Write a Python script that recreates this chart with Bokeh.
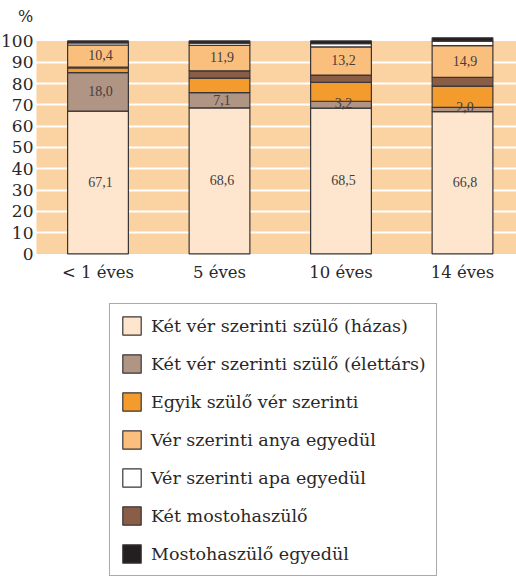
from bokeh.plotting import figure
from bokeh.models import (ColumnDataSource, Range1d, FixedTicker, BoxAnnotation,
                          Legend, LegendItem, LabelSet)
from bokeh.core.properties import value
from bokeh.embed import file_html
from bokeh.resources import INLINE

# ---- data ----
categories = ["< 1 éves", "5 éves", "10 éves", "14 éves"]
hazas = [67.1, 68.6, 68.5, 66.8]
elettars = [18.0, 7.1, 3.2, 2.0]
egyik = [2.2, 6.9, 8.9, 10.0]
ket_mostoha = [0.4, 3.4, 3.4, 4.1]
anya = [10.4, 11.9, 13.2, 14.9]
apa = [1.0, 1.1, 1.5, 2.1]
mostoha_egyedul = [0.9, 1.0, 1.3, 1.6]
y_ticks = [0, 10, 20, 30, 40, 50, 60, 70, 80, 90, 100]
unit_label = "%"

series_names = ["Két vér szerinti szülő (házas)", "Két vér szerinti szülő (élettárs)",
                "Egyik szülő vér szerinti", "Vér szerinti anya egyedül",
                "Vér szerinti apa egyedül", "Két mostohaszülő", "Mostohaszülő egyedül"]

SERIF = "DejaVu Serif"
TXT = "#2b2728"

colors = {
    "hazas": "#FDE6CD",
    "elettars": "#B09484",
    "egyik": "#F49B2D",
    "anya": "#FBBF7D",
    "apa": "#FFFFFF",
    "ket_mostoha": "#8A5D47",
    "mostoha_egyedul": "#231F20",
}

stack_keys = ["hazas", "elettars", "egyik", "ket_mostoha", "anya", "apa", "mostoha_egyedul"]
legend_keys = ["hazas", "elettars", "egyik", "anya", "apa", "ket_mostoha", "mostoha_egyedul"]
data_map = {"hazas": hazas, "elettars": elettars, "egyik": egyik, "ket_mostoha": ket_mostoha,
            "anya": anya, "apa": apa, "mostoha_egyedul": mostoha_egyedul}

xs = list(range(len(categories)))
src = ColumnDataSource(dict(x=xs, **{k: data_map[k] for k in stack_keys}))

# layout constants (positions in data units of the frame)
X0, X1 = -0.8025, 3.4444
BAND_LEFT = -0.5062
YLAB_X = -0.5309
UNIT_X = -0.5967
Y0, Y1 = -156.6, 119.0

p = figure(width=516, height=587, output_backend="svg", toolbar_location=None,
           x_range=Range1d(X0, X1), y_range=Range1d(Y0, Y1),
           min_border_left=0, min_border_right=0, min_border_top=0, min_border_bottom=0)
p.outline_line_color = None
p.background_fill_color = "white"
p.xaxis.visible = False
p.yaxis.visible = False

# orange band background
p.add_layout(BoxAnnotation(left=BAND_LEFT, bottom=0, top=100, fill_color="#FBD2A2",
                           fill_alpha=1, line_color=None, level="image"))

p.xgrid.grid_line_color = None
p.ygrid.ticker = FixedTicker(ticks=y_ticks[1:-1])
p.ygrid.grid_line_color = "white"
p.ygrid.grid_line_width = 2

renderers = p.vbar_stack(stack_keys, x="x", width=0.5, source=src,
                         color=[colors[k] for k in stack_keys],
                         line_color="#3a3536", line_width=1.2)
rmap = dict(zip(stack_keys, renderers))

# y tick labels
ysrc = ColumnDataSource(dict(x=[YLAB_X] * len(y_ticks), y=y_ticks, t=[str(v) for v in y_ticks]))
p.text(x="x", y="y", text="t", source=ysrc, text_align="right", text_baseline="middle",
       text_font=value(SERIF), text_font_size="17px", text_color=TXT)
# unit label
usrc = ColumnDataSource(dict(x=[UNIT_X], y=[111.5], t=[unit_label]))
p.text(x="x", y="y", text="t", source=usrc, text_align="center", text_baseline="middle",
       text_font=value(SERIF), text_font_size="16px", text_color=TXT)

# category labels under the bars
csrc = ColumnDataSource(dict(x=xs, y=[-8.7] * len(xs), t=categories))
p.text(x="x", y="y", text="t", source=csrc, text_align="center", text_baseline="middle",
       text_font=value(SERIF), text_font_size="16.5px", text_color=TXT)

# value labels
lab_x, lab_y, lab_t = [], [], []
for i in xs:
    base = 0.0
    for k in stack_keys:
        v = data_map[k][i]
        if k in ("hazas", "elettars", "anya"):
            lab_x.append(i + 0.02)
            lab_y.append(base + v / 2 + (1.0 if v < 5 else 0.3))
            lab_t.append(f"{v:.1f}".replace(".", ","))
        base += v
lsrc = ColumnDataSource(dict(x=lab_x, y=lab_y, t=lab_t))
p.add_layout(LabelSet(x="x", y="y", text="t", source=lsrc, text_align="center",
                      text_baseline="middle", text_font=SERIF, text_font_size="14px",
                      text_color="#453d3d"))

items = [LegendItem(label=series_names[legend_keys.index(k)], renderers=[rmap[k]])
         for k in legend_keys]
legend = Legend(items=items, location=(109, 11), orientation="vertical",
                label_text_font=SERIF, label_text_font_size="17.5px", label_text_color=TXT,
                glyph_width=23, glyph_height=23, label_height=23, spacing=15,
                label_standoff=8, padding=10, margin=0,
                border_line_color="#555", border_line_width=1.5,
                background_fill_alpha=1)
p.add_layout(legend, "center")

open("out.html", "w").write(file_html(p, INLINE))
